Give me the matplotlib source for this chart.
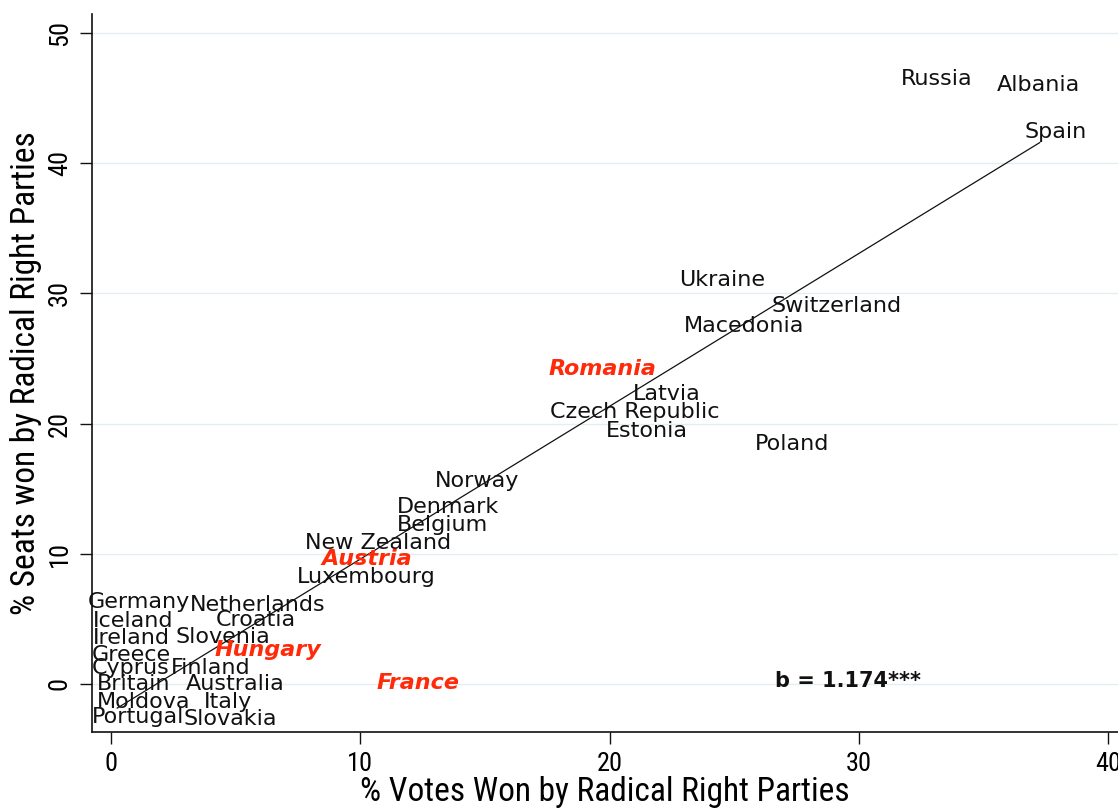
import matplotlib
matplotlib.use("Agg")
import matplotlib.pyplot as plt
from matplotlib import font_manager as fm
import numpy as np

# Country labels and their positions (% votes, % seats)
countries = ["Russia", "Albania", "Spain", "Ukraine", "Switzerland", "Macedonia",
             "Romania", "Latvia", "Czech Republic", "Estonia", "Poland",
             "Norway", "Denmark", "Belgium", "New Zealand", "Austria", "Luxembourg",
             "Germany", "Netherlands", "Iceland", "Croatia", "Ireland", "Slovenia",
             "Hungary", "Greece", "Cyprus", "Finland", "France", "Britain",
             "Australia", "Moldova", "Italy", "Portugal", "Slovakia"]
votes = [33.1, 37.2, 37.9, 24.5, 29.1, 25.4,
         19.7, 22.3, 21.0, 21.5, 27.3,
         14.7, 13.5, 13.3, 10.7, 10.25, 10.25,
         1.1, 5.9, 0.9, 5.8, 0.8, 4.5,
         6.3, 0.8, 0.8, 4.0, 12.3, 0.9,
         5.0, 1.3, 4.7, 1.1, 4.8]
seats = [46.5, 46.0, 42.4, 31.0, 29.0, 27.5,
         24.2, 22.3, 20.9, 19.4, 18.4,
         15.6, 13.6, 12.2, 10.8, 9.6, 8.2,
         6.3, 6.1, 4.8, 4.9, 3.5, 3.6,
         2.6, 2.2, 1.2, 1.2, 0.1, 0.0,
         0.0, -1.4, -1.4, -2.5, -2.7]
# Countries highlighted in red
highlighted = ["Romania", "Austria", "Hungary", "France"]

# Linear fit: slope, intercept and the x range it spans
fit_slope = 1.174
fit_intercept = -2.15
fit_range = [0.25, 37.25]
slope_label = "b = 1.174***"

x_ticks = [0, 10, 20, 30, 40]
y_ticks = [0, 10, 20, 30, 40, 50]
x_title = "% Votes Won by Radical Right Parties"
y_title = "% Seats won by Radical Right Parties"

available = {f.name for f in fm.fontManager.ttflist}
narrow = next((f for f in ["Liberation Sans Narrow", "DejaVu Sans Condensed",
                           "Roboto Condensed", "Liberation Sans"] if f in available),
              "DejaVu Sans")

fig = plt.figure(figsize=(11.18, 8.09), dpi=100)
ax = fig.add_axes([92 / 1118, 77 / 809, 1026 / 1118, 718 / 809])
ax.set_xlim(-0.76, 40.39)
ax.set_ylim(-3.69, 51.46)

for s in ["top", "right"]:
    ax.spines[s].set_visible(False)
for s in ["left", "bottom"]:
    ax.spines[s].set_linewidth(1.2)
    ax.spines[s].set_color("#111111")

ax.set_xticks(x_ticks)
ax.set_yticks(y_ticks)
ax.tick_params(axis="both", length=8.5, width=1.0, color="#111111", pad=6)
for lab in ax.get_xticklabels():
    lab.set_fontfamily(narrow)
    lab.set_fontsize(19)
for lab in ax.get_yticklabels():
    lab.set_fontfamily(narrow)
    lab.set_fontsize(19)
    lab.set_rotation(90)
    lab.set_va("center")

ax.yaxis.grid(True, color="#e4eef2", linewidth=1.0)
ax.set_axisbelow(True)

ax.set_xlabel(x_title, fontfamily=narrow, fontsize=24, labelpad=0)
ax.set_ylabel(y_title, fontfamily=narrow, fontsize=24, labelpad=4)

fx = np.array(fit_range)
ax.plot(fx, fit_slope * fx + fit_intercept, color="#111111", linewidth=0.9)

for name, vx, vy in zip(countries, votes, seats):
    if name in highlighted:
        ax.text(vx, vy, name, ha="center", va="center", fontsize=16,
                color="#ff2a0a", fontweight="bold", fontstyle="italic",
                family="DejaVu Sans")
    else:
        ax.text(vx, vy, name, ha="center", va="center", fontsize=16,
                color="#111111", family="DejaVu Sans")

ax.text(29.55, 0.2, slope_label, ha="center", va="center", fontsize=15,
        fontweight="bold", color="#111111", family="DejaVu Sans")

fig.savefig("out.png", dpi=100, facecolor="white")
